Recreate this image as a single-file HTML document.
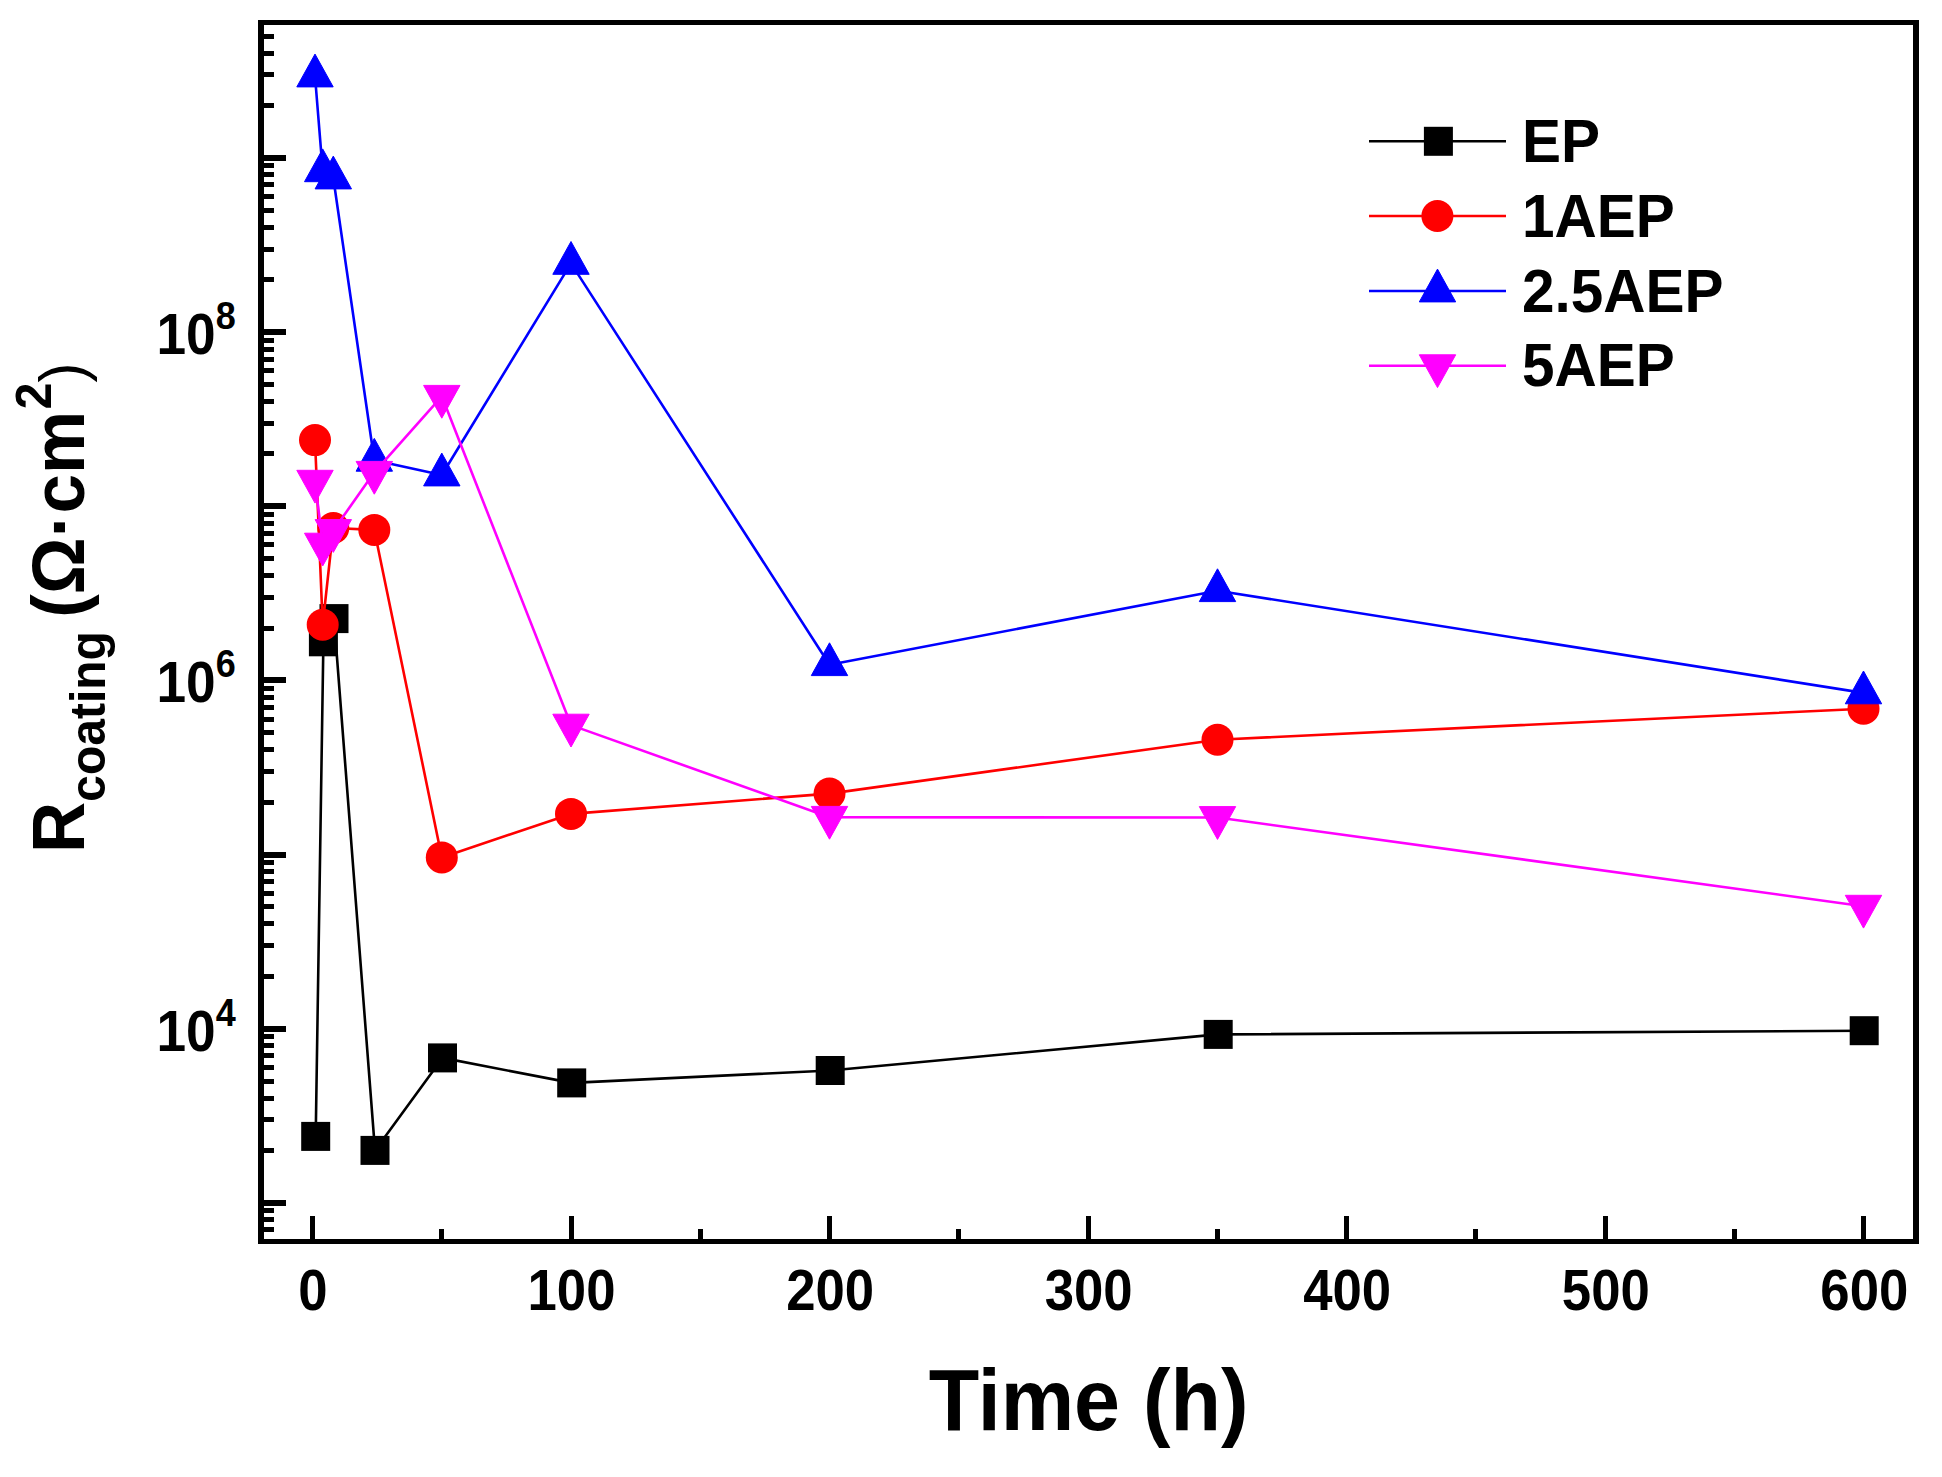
<!DOCTYPE html>
<html lang="en"><head><meta charset="utf-8"><title>Rcoating vs Time</title>
<style>html,body{margin:0;padding:0;background:#fff}body{width:1942px;height:1477px;overflow:hidden}svg{display:block}text{font-family:"Liberation Sans",Arial,sans-serif;fill:#000}.b{font-weight:bold}</style></head><body>
<svg width="1942" height="1477" viewBox="0 0 1942 1477">
<rect width="1942" height="1477" fill="#fff"/>
<g id="series">
<polyline points="315.7,1136.4 323.4,641.8 334.0,618.6 375.0,1150.4 442.5,1057.9 571.7,1082.9 830.2,1070.5 1218.2,1034.4 1864.2,1030.7" fill="none" stroke="#000" stroke-width="2.6" stroke-linejoin="round"/>
<rect x="301.2" y="1121.9" width="29" height="29" fill="#000"/>
<rect x="308.9" y="627.3" width="29" height="29" fill="#000"/>
<rect x="319.5" y="604.1" width="29" height="29" fill="#000"/>
<rect x="360.5" y="1135.9" width="29" height="29" fill="#000"/>
<rect x="428.0" y="1043.4" width="29" height="29" fill="#000"/>
<rect x="557.2" y="1068.4" width="29" height="29" fill="#000"/>
<rect x="815.7" y="1056.0" width="29" height="29" fill="#000"/>
<rect x="1203.7" y="1019.9" width="29" height="29" fill="#000"/>
<rect x="1849.7" y="1016.2" width="29" height="29" fill="#000"/>
<polyline points="315.0,440.1 322.7,624.8 333.3,528.0 374.3,529.9 441.8,857.4 571.0,813.9 829.5,793.6 1217.5,739.7 1863.5,708.7" fill="none" stroke="#f00" stroke-width="2.6" stroke-linejoin="round"/>
<circle cx="315.0" cy="440.1" r="16.0" fill="#f00"/>
<circle cx="322.7" cy="624.8" r="16.0" fill="#f00"/>
<circle cx="333.3" cy="528.0" r="16.0" fill="#f00"/>
<circle cx="374.3" cy="529.9" r="16.0" fill="#f00"/>
<circle cx="441.8" cy="857.4" r="16.0" fill="#f00"/>
<circle cx="571.0" cy="813.9" r="16.0" fill="#f00"/>
<circle cx="829.5" cy="793.6" r="16.0" fill="#f00"/>
<circle cx="1217.5" cy="739.7" r="16.0" fill="#f00"/>
<circle cx="1863.5" cy="708.7" r="16.0" fill="#f00"/>
<polyline points="315.0,76.0 322.7,170.8 333.3,178.0 374.3,460.3 441.8,475.0 571.0,263.4 829.5,664.7 1217.5,590.7 1863.5,692.9" fill="none" stroke="#00f" stroke-width="2.6" stroke-linejoin="round"/>
<polygon points="315.0,54.1 296.8,86.9 333.2,86.9" fill="#00f" stroke="#00f" stroke-width="1" stroke-linejoin="round"/>
<polygon points="322.7,148.9 304.5,181.7 340.9,181.7" fill="#00f" stroke="#00f" stroke-width="1" stroke-linejoin="round"/>
<polygon points="333.3,156.1 315.1,188.9 351.5,188.9" fill="#00f" stroke="#00f" stroke-width="1" stroke-linejoin="round"/>
<polygon points="374.3,438.4 356.1,471.2 392.5,471.2" fill="#00f" stroke="#00f" stroke-width="1" stroke-linejoin="round"/>
<polygon points="441.8,453.1 423.6,485.9 460.0,485.9" fill="#00f" stroke="#00f" stroke-width="1" stroke-linejoin="round"/>
<polygon points="571.0,241.5 552.8,274.3 589.2,274.3" fill="#00f" stroke="#00f" stroke-width="1" stroke-linejoin="round"/>
<polygon points="829.5,642.8 811.3,675.6 847.7,675.6" fill="#00f" stroke="#00f" stroke-width="1" stroke-linejoin="round"/>
<polygon points="1217.5,568.8 1199.3,601.6 1235.7,601.6" fill="#00f" stroke="#00f" stroke-width="1" stroke-linejoin="round"/>
<polygon points="1863.5,671.0 1845.3,703.8 1881.7,703.8" fill="#00f" stroke="#00f" stroke-width="1" stroke-linejoin="round"/>
<polyline points="315.0,481.2 322.7,544.1 333.3,530.5 374.3,472.3 441.8,396.3 571.0,725.1 829.5,817.3 1217.5,817.5 1863.5,906.2" fill="none" stroke="#f0f" stroke-width="2.6" stroke-linejoin="round"/>
<polygon points="315.0,503.1 296.8,470.3 333.2,470.3" fill="#f0f" stroke="#f0f" stroke-width="1" stroke-linejoin="round"/>
<polygon points="322.7,566.0 304.5,533.2 340.9,533.2" fill="#f0f" stroke="#f0f" stroke-width="1" stroke-linejoin="round"/>
<polygon points="333.3,552.4 315.1,519.6 351.5,519.6" fill="#f0f" stroke="#f0f" stroke-width="1" stroke-linejoin="round"/>
<polygon points="374.3,494.2 356.1,461.4 392.5,461.4" fill="#f0f" stroke="#f0f" stroke-width="1" stroke-linejoin="round"/>
<polygon points="441.8,418.2 423.6,385.4 460.0,385.4" fill="#f0f" stroke="#f0f" stroke-width="1" stroke-linejoin="round"/>
<polygon points="571.0,747.0 552.8,714.2 589.2,714.2" fill="#f0f" stroke="#f0f" stroke-width="1" stroke-linejoin="round"/>
<polygon points="829.5,839.2 811.3,806.4 847.7,806.4" fill="#f0f" stroke="#f0f" stroke-width="1" stroke-linejoin="round"/>
<polygon points="1217.5,839.4 1199.3,806.6 1235.7,806.6" fill="#f0f" stroke="#f0f" stroke-width="1" stroke-linejoin="round"/>
<polygon points="1863.5,928.1 1845.3,895.3 1881.7,895.3" fill="#f0f" stroke="#f0f" stroke-width="1" stroke-linejoin="round"/>
</g>
<g id="frame" fill="#000" shape-rendering="crispEdges">
<rect x="258" y="20" width="6" height="1224"/>
<rect x="1913" y="20" width="6" height="1224"/>
<rect x="258" y="20" width="1661" height="5"/>
<rect x="258" y="1239" width="1661" height="5"/>
<rect x="264" y="1239" width="10" height="5"/>
<rect x="264" y="1227" width="10" height="5"/>
<rect x="264" y="1217" width="10" height="5"/>
<rect x="264" y="1208" width="10" height="5"/>
<rect x="264" y="1200" width="22" height="6"/>
<rect x="264" y="1148" width="10" height="5"/>
<rect x="264" y="1117" width="10" height="5"/>
<rect x="264" y="1096" width="10" height="5"/>
<rect x="264" y="1079" width="10" height="5"/>
<rect x="264" y="1065" width="10" height="5"/>
<rect x="264" y="1053" width="10" height="5"/>
<rect x="264" y="1043" width="10" height="5"/>
<rect x="264" y="1034" width="10" height="5"/>
<rect x="264" y="1026" width="22" height="6"/>
<rect x="264" y="974" width="10" height="5"/>
<rect x="264" y="943" width="10" height="5"/>
<rect x="264" y="921" width="10" height="5"/>
<rect x="264" y="904" width="10" height="5"/>
<rect x="264" y="891" width="10" height="5"/>
<rect x="264" y="879" width="10" height="5"/>
<rect x="264" y="869" width="10" height="5"/>
<rect x="264" y="860" width="10" height="5"/>
<rect x="264" y="852" width="22" height="6"/>
<rect x="264" y="800" width="10" height="5"/>
<rect x="264" y="769" width="10" height="5"/>
<rect x="264" y="747" width="10" height="5"/>
<rect x="264" y="730" width="10" height="5"/>
<rect x="264" y="717" width="10" height="5"/>
<rect x="264" y="705" width="10" height="5"/>
<rect x="264" y="695" width="10" height="5"/>
<rect x="264" y="686" width="10" height="5"/>
<rect x="264" y="677" width="22" height="6"/>
<rect x="264" y="626" width="10" height="5"/>
<rect x="264" y="595" width="10" height="5"/>
<rect x="264" y="573" width="10" height="5"/>
<rect x="264" y="556" width="10" height="5"/>
<rect x="264" y="542" width="10" height="5"/>
<rect x="264" y="531" width="10" height="5"/>
<rect x="264" y="521" width="10" height="5"/>
<rect x="264" y="512" width="10" height="5"/>
<rect x="264" y="503" width="22" height="6"/>
<rect x="264" y="451" width="10" height="5"/>
<rect x="264" y="421" width="10" height="5"/>
<rect x="264" y="399" width="10" height="5"/>
<rect x="264" y="382" width="10" height="5"/>
<rect x="264" y="368" width="10" height="5"/>
<rect x="264" y="357" width="10" height="5"/>
<rect x="264" y="347" width="10" height="5"/>
<rect x="264" y="338" width="10" height="5"/>
<rect x="264" y="329" width="22" height="6"/>
<rect x="264" y="277" width="10" height="5"/>
<rect x="264" y="247" width="10" height="5"/>
<rect x="264" y="225" width="10" height="5"/>
<rect x="264" y="208" width="10" height="5"/>
<rect x="264" y="194" width="10" height="5"/>
<rect x="264" y="182" width="10" height="5"/>
<rect x="264" y="172" width="10" height="5"/>
<rect x="264" y="163" width="10" height="5"/>
<rect x="264" y="155" width="22" height="6"/>
<rect x="264" y="103" width="10" height="5"/>
<rect x="264" y="72" width="10" height="5"/>
<rect x="264" y="51" width="10" height="5"/>
<rect x="264" y="34" width="10" height="5"/>
<rect x="264" y="20" width="10" height="5"/>
<rect x="310" y="1216" width="5" height="23"/>
<rect x="439" y="1229" width="5" height="10"/>
<rect x="569" y="1216" width="5" height="23"/>
<rect x="698" y="1229" width="5" height="10"/>
<rect x="827" y="1216" width="5" height="23"/>
<rect x="956" y="1229" width="5" height="10"/>
<rect x="1086" y="1216" width="5" height="23"/>
<rect x="1215" y="1229" width="5" height="10"/>
<rect x="1344" y="1216" width="5" height="23"/>
<rect x="1473" y="1229" width="5" height="10"/>
<rect x="1603" y="1216" width="5" height="23"/>
<rect x="1732" y="1229" width="5" height="10"/>
<rect x="1861" y="1216" width="5" height="23"/>
</g>
<g id="xlabels" class="b" font-size="52.7" text-anchor="middle">
<text transform="translate(313.0,1309.5) scale(1,1.105)">0</text>
<text transform="translate(571.5,1309.5) scale(1,1.105)">100</text>
<text transform="translate(830.1,1309.5) scale(1,1.105)">200</text>
<text transform="translate(1088.7,1309.5) scale(1,1.105)">300</text>
<text transform="translate(1347.2,1309.5) scale(1,1.105)">400</text>
<text transform="translate(1605.8,1309.5) scale(1,1.105)">500</text>
<text transform="translate(1864.3,1309.5) scale(1,1.105)">600</text>
</g>
<g id="ylabels" class="b" font-size="53.2">
<text transform="translate(156.5,353.9) scale(1,1.095)">10<tspan font-size="36" dy="-22.8" dx="0">8</tspan></text>
<text transform="translate(156.5,702.2) scale(1,1.095)">10<tspan font-size="36" dy="-22.8" dx="0">6</tspan></text>
<text transform="translate(156.5,1050.5) scale(1,1.095)">10<tspan font-size="36" dy="-22.8" dx="0">4</tspan></text>
</g>
<text class="b" font-size="82.6" transform="translate(1088.6,1430.3) scale(1,1.05)" text-anchor="middle">Time (h)</text>
<text class="b" font-size="71" transform="translate(84,853) rotate(-90) scale(1,1.035)">R<tspan font-size="48" dy="20.3">coating </tspan><tspan dy="-20.3">(Ω·cm</tspan><tspan font-size="48.5" dy="-31.5" dx="1.5">2</tspan><tspan dy="31.5" font-size="60" font-weight="normal">)</tspan></text>
<g id="legend">
<line x1="1369" y1="141.3" x2="1506" y2="141.3" stroke="#000" stroke-width="2.6"/>
<rect x="1423.9" y="126.8" width="29" height="29" fill="#000"/>
<text class="b" font-size="58.5" transform="translate(1522,161.9) scale(1,1.035)">EP</text>
<line x1="1369" y1="216.0" x2="1506" y2="216.0" stroke="#f00" stroke-width="2.6"/>
<circle cx="1437.4" cy="216.0" r="16.0" fill="#f00"/>
<text class="b" font-size="58.5" transform="translate(1522,236.6) scale(1,1.035)">1AEP</text>
<line x1="1369" y1="291.0" x2="1506" y2="291.0" stroke="#00f" stroke-width="2.6"/>
<polygon points="1437.5,269.1 1419.3,301.9 1455.7,301.9" fill="#00f" stroke="#00f" stroke-width="1" stroke-linejoin="round"/>
<text class="b" font-size="58.5" transform="translate(1522,311.6) scale(1,1.035)">2.5AEP</text>
<line x1="1369" y1="365.7" x2="1506" y2="365.7" stroke="#f0f" stroke-width="2.6"/>
<polygon points="1437.5,387.6 1419.3,354.8 1455.7,354.8" fill="#f0f" stroke="#f0f" stroke-width="1" stroke-linejoin="round"/>
<text class="b" font-size="58.5" transform="translate(1522,386.3) scale(1,1.035)">5AEP</text>
</g>
</svg></body></html>
